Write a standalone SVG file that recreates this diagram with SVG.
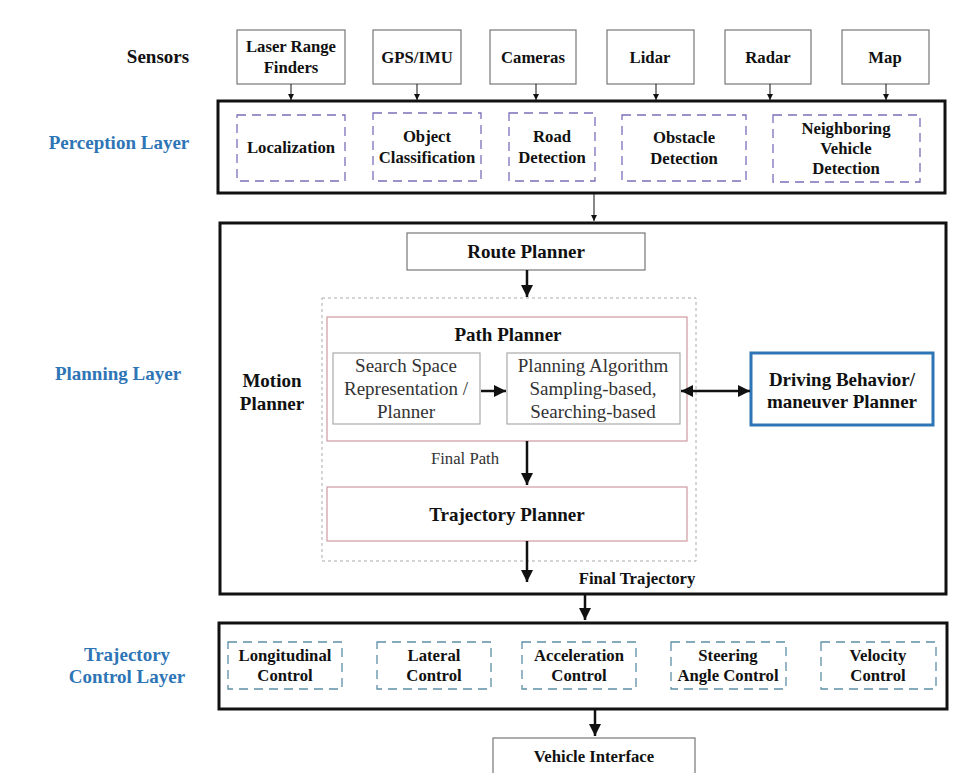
<svg xmlns="http://www.w3.org/2000/svg" width="966" height="773" viewBox="0 0 966 773" font-family="'Liberation Serif', 'Times New Roman', serif">
<defs>
<style>
text{font-family:"Liberation Serif","Times New Roman",serif;text-anchor:middle;fill:#111}
.b{font-weight:bold;font-size:16.7px}
.h{font-weight:bold;font-size:19px}
.lbl{font-weight:bold;font-size:19px;fill:#2e75b6}
.sb{fill:#fff;stroke:#777;stroke-width:1.2}
.layer{fill:none;stroke:#111;stroke-width:3}
.dp{fill:none;stroke:#7a6fb8;stroke-width:1.3;stroke-dasharray:9,6}
.dc{fill:none;stroke:#5d8fa6;stroke-width:1.3;stroke-dasharray:9,6}
.pink{fill:#fff;stroke:#d09aa0;stroke-width:1.2}
.gb{fill:#fff;stroke:#aaa;stroke-width:1.2}
.n{font-size:19px;fill:#333}
.ln{stroke:#111;fill:none}
</style>
<marker id="as" viewBox="0 0 10 10" refX="10" refY="5" markerWidth="6" markerHeight="6" markerUnits="userSpaceOnUse" orient="auto"><path d="M0,0L10,5L0,10z" fill="#111"/></marker>
<marker id="al" viewBox="0 0 10 10" refX="10" refY="5" markerWidth="14" markerHeight="12" markerUnits="userSpaceOnUse" orient="auto-start-reverse"><path d="M0,0L10,5L0,10z" fill="#111"/></marker>
</defs>
<rect width="966" height="773" fill="#fff"/>

<g id="labels">
<text class="h" x="158" y="63">Sensors</text>
<text class="lbl" x="119" y="149">Perception Layer</text>
<text class="lbl" x="118" y="380">Planning  Layer</text>
<text class="lbl" x="127" y="661">Trajectory</text>
<text class="lbl" x="127" y="683">Control Layer</text>
</g>

<g id="sensor-laser"><rect class="sb" x="237" y="30" width="108" height="54"/><text class="b" x="291" y="52">Laser Range</text><text class="b" x="291" y="73">Finders</text></g>
<g id="sensor-gps"><rect class="sb" x="373" y="30" width="88" height="54"/><text class="b" x="417" y="63">GPS/IMU</text></g>
<g id="sensor-cameras"><rect class="sb" x="490" y="30" width="86" height="54"/><text class="b" x="533" y="63">Cameras</text></g>
<g id="sensor-lidar"><rect class="sb" x="607" y="30" width="87" height="54"/><text class="b" x="650" y="63">Lidar</text></g>
<g id="sensor-radar"><rect class="sb" x="725" y="30" width="86" height="54"/><text class="b" x="768" y="63">Radar</text></g>
<g id="sensor-map"><rect class="sb" x="842" y="30" width="87" height="54"/><text class="b" x="885" y="63">Map</text></g>

<g id="perception-layer">
<rect class="layer" x="218" y="101" width="727" height="92"/>
<g id="localization"><rect class="dp" x="237" y="115" width="108" height="66"/><text class="b" x="291" y="153">Localization</text></g>
<g id="object-classification"><rect class="dp" x="373" y="113" width="108" height="68"/><text class="b" x="427" y="142">Object</text><text class="b" x="427" y="163">Classification</text></g>
<g id="road-detection"><rect class="dp" x="509" y="113" width="86" height="68"/><text class="b" x="552" y="142">Road</text><text class="b" x="552" y="163">Detection</text></g>
<g id="obstacle-detection"><rect class="dp" x="622" y="115" width="124" height="66"/><text class="b" x="684" y="143">Obstacle</text><text class="b" x="684" y="164">Detection</text></g>
<g id="neighboring-vehicle"><rect class="dp" x="773" y="115" width="147" height="67"/><text class="b" x="846" y="134">Neighboring</text><text class="b" x="846" y="154">Vehicle</text><text class="b" x="846" y="174">Detection</text></g>
</g>

<g id="planning-layer">
<rect class="layer" x="220" y="223" width="726" height="371"/>
<text class="h" x="272" y="387">Motion</text>
<text class="h" x="272" y="410">Planner</text>
<g id="route-planner"><rect class="sb" x="407" y="233" width="238" height="37"/><text class="h" x="526" y="258">Route Planner</text></g>
<rect id="motion-planner" x="322" y="298" width="374" height="263" fill="none" stroke="#aaa" stroke-width="1" stroke-dasharray="3,3"/>
<g id="path-planner"><rect class="pink" x="327" y="317" width="360" height="124"/><text class="h" x="508" y="341">Path Planner</text></g>
<g id="search-space"><rect class="gb" x="333" y="353" width="147" height="71"/><text class="n" x="406" y="372">Search Space</text><text class="n" x="406" y="395">Representation /</text><text class="n" x="406" y="418">Planner</text></g>
<g id="planning-algorithm"><rect class="gb" x="507" y="353" width="173" height="71"/><text class="n" x="593" y="372">Planning Algorithm</text><text class="n" x="593" y="395">Sampling-based,</text><text class="n" x="593" y="418">Searching-based</text></g>
<g id="driving-behavior"><rect x="751" y="353" width="182" height="72" fill="#fff" stroke="#2e75b6" stroke-width="3"/><text class="h" x="842" y="386">Driving Behavior/</text><text class="h" x="842" y="408">maneuver Planner</text></g>
<g id="trajectory-planner"><rect class="pink" x="327" y="487" width="360" height="54"/><text class="h" x="507" y="521">Trajectory Planner</text></g>
</g>

<g id="control-layer">
<rect class="layer" x="219" y="623" width="728" height="86"/>
<g id="longitudinal"><rect class="dc" x="228" y="642" width="114" height="47"/><text class="b" x="285" y="661">Longitudinal</text><text class="b" x="285" y="681">Control</text></g>
<g id="lateral"><rect class="dc" x="377" y="642" width="114" height="47"/><text class="b" x="434" y="661">Lateral</text><text class="b" x="434" y="681">Control</text></g>
<g id="acceleration"><rect class="dc" x="522" y="642" width="114" height="47"/><text class="b" x="579" y="661">Acceleration</text><text class="b" x="579" y="681">Control</text></g>
<g id="steering"><rect class="dc" x="671" y="642" width="115" height="47"/><text class="b" x="728" y="661">Steering</text><text class="b" x="728" y="681">Angle Control</text></g>
<g id="velocity"><rect class="dc" x="821" y="642" width="115" height="47"/><text class="b" x="878" y="661">Velocity</text><text class="b" x="878" y="681">Control</text></g>
</g>

<g id="vehicle-interface"><rect class="sb" x="493" y="738" width="202" height="45"/><text class="b" x="594" y="762">Vehicle Interface</text></g>

<g id="connectors">
<line class="ln" x1="291" y1="84" x2="291" y2="100" stroke-width="1" marker-end="url(#as)"/>
<line class="ln" x1="417" y1="84" x2="417" y2="100" stroke-width="1" marker-end="url(#as)"/>
<line class="ln" x1="536" y1="84" x2="536" y2="100" stroke-width="1" marker-end="url(#as)"/>
<line class="ln" x1="656" y1="84" x2="656" y2="100" stroke-width="1" marker-end="url(#as)"/>
<line class="ln" x1="770" y1="84" x2="770" y2="100" stroke-width="1" marker-end="url(#as)"/>
<line class="ln" x1="886" y1="84" x2="886" y2="100" stroke-width="1" marker-end="url(#as)"/>
<line class="ln" x1="594" y1="194" x2="594" y2="221" stroke-width="1" marker-end="url(#as)"/>
<line class="ln" x1="527" y1="270" x2="527" y2="297" stroke-width="2.5" marker-end="url(#al)"/>
<line class="ln" x1="481" y1="391" x2="506" y2="391" stroke-width="2.5" marker-end="url(#al)"/>
<line class="ln" x1="681" y1="391" x2="750" y2="391" stroke-width="2.5" marker-start="url(#al)" marker-end="url(#al)"/>
<line class="ln" x1="527" y1="441" x2="527" y2="485" stroke-width="2.5" marker-end="url(#al)"/>
<text x="465" y="464" style="font-size:16.7px;fill:#333">Final Path</text>
<line class="ln" x1="527" y1="541" x2="527" y2="582" stroke-width="2.5" marker-end="url(#al)"/>
<text class="b" x="637" y="584">Final Trajectory</text>
<line class="ln" x1="585" y1="595" x2="585" y2="620" stroke-width="2.5" marker-end="url(#al)"/>
<line class="ln" x1="595" y1="710" x2="595" y2="736" stroke-width="2.5" marker-end="url(#al)"/>
</g>
</svg>
